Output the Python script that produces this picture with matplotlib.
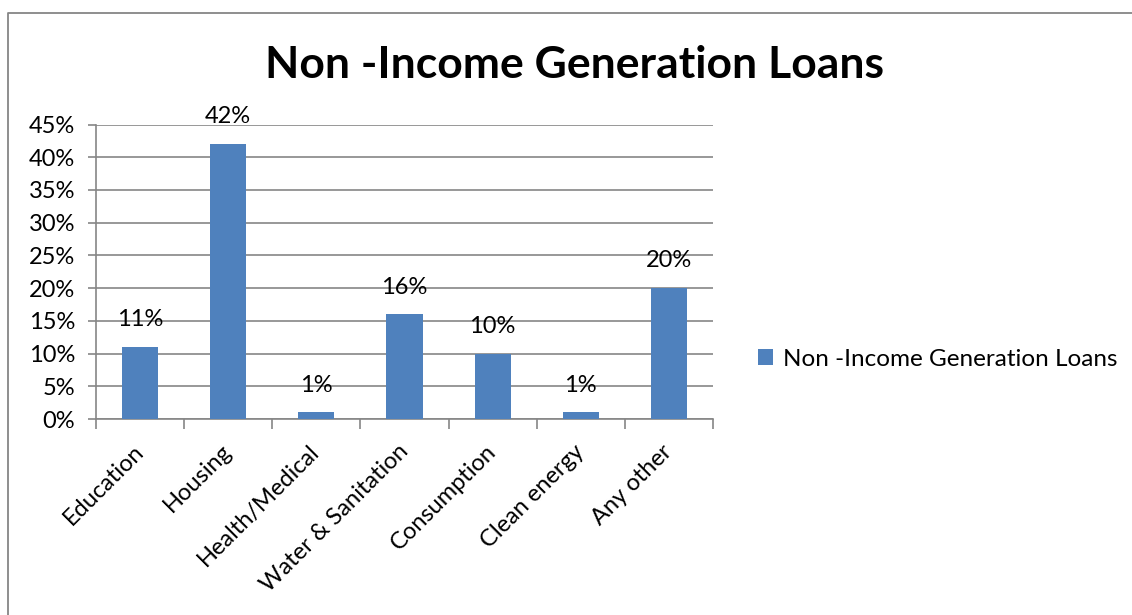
import matplotlib.pyplot as plt
from matplotlib.lines import Line2D

categories = ["Education", "Housing", "Health/Medical", "Water & Sanitation",
              "Consumption", "Clean energy", "Any other"]
values = [11, 42, 1, 16, 10, 1, 20]
series_name = "Non -Income Generation Loans"
title = "Non -Income Generation Loans"

plt.rcParams['font.family'] = ['Lato', 'DejaVu Sans']
fs = 17

fig = plt.figure(figsize=(11.32, 6.15), dpi=100)
ax = fig.add_axes([96/1132, 1 - 419/615, (713-96)/1132, (419-124.5)/615])

x = range(len(categories))
bars = ax.bar(x, values, width=0.41, color='#4F81BD', label=series_name, zorder=3)

for xi, v in zip(x, values):
    ax.annotate(f"{v}%", (xi, v), xytext=(0, 12), textcoords='offset points',
                ha='center', va='bottom', fontsize=fs)

ax.set_xlim(-0.5, len(categories) - 0.5)
ax.set_ylim(0, 45)
ax.set_yticks(range(0, 46, 5))
ax.set_yticklabels([f"{t}%" for t in range(0, 46, 5)], fontsize=fs)
ax.yaxis.grid(True, color='#868686', linewidth=1.2, zorder=0)
ax.tick_params(axis='y', length=6, color='#868686', width=1.2, pad=9)

ax.set_xticks([i - 0.5 for i in range(len(categories) + 1)], minor=False)
ax.set_xticklabels([])
ax.tick_params(axis='x', length=7, color='#868686', width=1.2)
ax.set_xticks(list(x), minor=True)
ax.set_xticklabels(categories, minor=True, rotation=45, ha='right', va='center',
                   rotation_mode='anchor', fontsize=fs)
ax.tick_params(axis='x', which='minor', length=0, pad=21)

for s in ['top', 'right']:
    ax.spines[s].set_visible(False)
for s in ['left', 'bottom']:
    ax.spines[s].set_color('#868686')
    ax.spines[s].set_linewidth(1.2)

fig.text(575/1132, 1 - 65/615, title, ha='center', va='center',
         fontsize=32, fontweight='bold')

leg = fig.legend(handles=[bars], labels=[series_name], loc='center left',
                 bbox_to_anchor=(736/1132, 1 - 359/615), frameon=False,
                 fontsize=17.5, handlelength=0.62, handleheight=0.62,
                 handletextpad=0.4)

# chart area border (left and top edges visible)
fig.add_artist(Line2D([7.5/1132, 7.5/1132, 1.0], [0.0, 1 - 12.5/615, 1 - 12.5/615],
                      transform=fig.transFigure, color='#868686', linewidth=1.3))

fig.savefig("out.png", dpi=100)
